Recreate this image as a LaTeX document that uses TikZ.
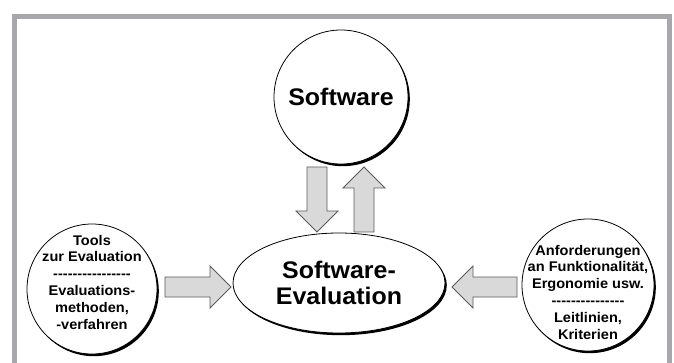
\documentclass[tikz,border=0pt]{standalone}
\usepackage{fontspec}
\setmainfont{Liberation Sans}[Ligatures=TeXOff,FakeStretch=1.04]
\usetikzlibrary{shapes.geometric,calc,positioning}

\definecolor{framegray}{RGB}{168, 168, 172}
\definecolor{arrowgray}{RGB}{217, 217, 217}
\definecolor{edgegray}{RGB}{90, 90, 90}

% block arrow from #1 to #2
\newcommand{\blockarrow}[2]{%
  \draw[blockarr] ($(#1)!10pt!90:(#2)$) -- ($($(#2)!21pt!(#1)$)!10pt!-90:(#1)$)
    -- ($($(#2)!21pt!(#1)$)!21pt!-90:(#1)$) -- (#2)
    -- ($($(#2)!21pt!(#1)$)!21pt!90:(#1)$) -- ($($(#2)!21pt!(#1)$)!10pt!90:(#1)$)
    -- ($(#1)!10pt!-90:(#2)$) -- cycle;}

\begin{document}
\begin{tikzpicture}[
    x=1pt,y=-1pt,
    bubble/.style={draw,line width=0.8pt,fill=white,inner sep=0pt,align=center,
      preaction={fill=black,transform canvas={xshift=1.8pt,yshift=-2.2pt}}},
    small/.style={font=\bfseries\fontsize{14}{16.8}\selectfont,align=center},
    big/.style={font=\bfseries\fontsize{24}{26}\selectfont},
    blockarr/.style={fill=arrowgray,draw=edgegray,line width=0.8pt,line join=miter},
    frame/.style={draw=framegray,line width=5pt}
  ]
  \useasboundingbox (0,0) rectangle (674,363);

  % frame, open at the bottom
  \draw[frame] (14.5,363) -- (14.5,16.5) -- (669.5,16.5) -- (669.5,363);

  % nodes
  \node[bubble,circle,minimum size=134pt,big] (sw) at (341,97) {Software};
  \node[bubble,ellipse,minimum width=212pt,minimum height=100pt,big] (eval) at (339,283) {Software-\\Evaluation};
  \node[bubble,circle,minimum size=130pt,
    label={[small,yshift=7pt]center:Tools\\zur Evaluation\\----------------\\Evaluations-\\methoden,\\-verfahren}]
    (tools) at (92,289) {};
  \node[bubble,circle,minimum size=132pt,
    label={[small,yshift=-7pt]center:Anforderungen\\an Funktionalität,\\Ergonomie usw.\\---------------\\Leitlinien,\\Kriterien}]
    (req) at (588,285) {};

  % arrow ends
  \coordinate (dnA) at (317,167);
  \coordinate (dnB) at (317,232);
  \coordinate (upA) at (364,232);
  \coordinate (upB) at (364,167);
  \coordinate (ltA) at (165,287);
  \coordinate (ltB) at (231,287);
  \coordinate (rtA) at (517,287);
  \coordinate (rtB) at (452,287);

  % connections
  \blockarrow{dnA}{dnB}
  \blockarrow{upA}{upB}
  \blockarrow{ltA}{ltB}
  \blockarrow{rtA}{rtB}
\end{tikzpicture}
\end{document}
